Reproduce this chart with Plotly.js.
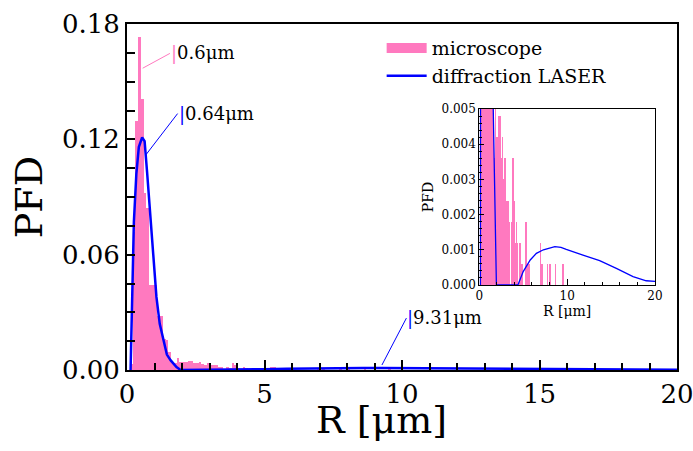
<!DOCTYPE html>
<html>
<head>
<meta charset="utf-8">
<script src="https://cdn.plot.ly/plotly-3.0.1.min.js"></script>
<style>html,body{margin:0;padding:0;background:#fff;}#chart{width:693px;height:451px;}</style>
</head>
<body>
<div id="chart"></div>
<script>
// Microscope histogram: bin centres (μm) and probability density
const binCenters = [0.15,0.25,0.35,0.45,0.55,0.65,0.75,0.85,0.95,1.05,1.15,1.25,1.35,1.45,1.55,1.65,1.75,1.85,1.95,2.05,2.15,2.25,2.35,2.45,2.55,2.65,2.75,2.85,2.95,3.05,3.15,3.25,3.35,3.45,3.65,3.75,3.85,3.95,4.05,4.25,4.35,4.55,4.65,4.85,5.25,5.35,5.55,5.75,6.95,7.15,7.75,8.05,8.65,9.55];
const microscopePFD = [0.003,0.072,0.1295,0.173,0.141,0.092,0.0845,0.044,0.044,0.044,0.028,0.028,0.016,0.0156,0.0096,0.0036,0.0036,0.006,0.0042,0.0042,0.0042,0.0048,0.0048,0.0036,0.0036,0.0042,0.003,0.0028,0.0036,0.0024,0.0024,0.0024,0.0018,0.0018,0.0018,0.0012,0.0036,0.0024,0.0012,0.0018,0.0012,0.0012,0.0012,0.0006,0.0018,0.0018,0.0006,0.0006,0.0012,0.0006,0.0006,0.0006,0.0006,0.0006];
const binWidth = 0.1;

// Diffraction LASER distribution
const laserR   = [0.13,0.18,0.25,0.34,0.43,0.55,0.64,0.73,0.83,0.95,1.07,1.19,1.31,1.39,1.45,1.59,1.69,1.80,1.95,4.4,5.0,5.8,6.5,7.3,8.6,9.3,9.9,11.8,13.7,15.6,17.5,19.0,20.0];
const laserPFD = [0,0.036,0.077,0.102,0.116,0.121,0.119,0.103,0.083,0.057,0.038,0.024,0.017,0.011,0.008,0.005,0.0035,0.0015,0,0,0.00038,0.00071,0.0009,0.001,0.00109,0.00107,0.00101,0.00085,0.00069,0.00047,0.00024,0.00012,0.0001];

// Peak annotations
const annotLabels = ["0.6μm","0.64μm","9.31μm"];
const annotHeadX = [0.57,0.69,9.27];
const annotHeadY = [0.157,0.112,0.0026];
const annotTailX = [1.56,1.84,10.16];
const annotTailY = [0.1647,0.1334,0.027];
const annotColors = ["#ff79bf","#0000ff","#0000ff"];

const PINK = "#ff79bf";
const BLUE = "#0000ff";
const FONT = "DejaVu Serif";

const traces = [
  {type:"bar", x:binCenters, y:microscopePFD, width:binWidth, marker:{color:PINK, line:{width:0}}, showlegend:false, xaxis:"x", yaxis:"y"},
  {type:"scatter", mode:"lines", x:[null], y:[null], name:"microscope", line:{color:PINK, width:10}, xaxis:"x", yaxis:"y"},
  {type:"scatter", mode:"lines", x:laserR, y:laserPFD, name:"diffraction LASER", line:{color:BLUE, width:2.5}, xaxis:"x", yaxis:"y"},
  {type:"bar", x:binCenters, y:microscopePFD, width:0.16, marker:{color:PINK, line:{width:0}}, showlegend:false, xaxis:"x2", yaxis:"y2"},
  {type:"scatter", mode:"lines", x:laserR, y:laserPFD, line:{color:BLUE, width:1.3}, showlegend:false, xaxis:"x2", yaxis:"y2"}
];

const annotations = annotLabels.map((t,i)=>({
  x:annotHeadX[i], y:annotHeadY[i], xref:"x", yref:"y",
  ax:annotTailX[i], ay:annotTailY[i], axref:"x", ayref:"y",
  text:'<span style="color:'+annotColors[i]+'">|</span>'+t,
  xanchor:"left", yanchor:"middle", borderpad:0,
  showarrow:true, arrowhead:0, arrowwidth:1, arrowcolor:annotColors[i],
  font:{family:FONT, size:18, color:"#000"}
}));
annotations.push({
  text:"R [μm]", xref:"paper", yref:"paper", x:0.462, y:-0.145, xanchor:"center", yanchor:"middle",
  showarrow:false, font:{family:FONT, size:38, color:"#000"}
});

const layout = {
  width:693, height:451,
  margin:{l:127, r:16, t:24, b:81},
  paper_bgcolor:"#fff", plot_bgcolor:"#fff",
  barmode:"overlay", bargap:0,
  font:{family:FONT, color:"#000"},
  showlegend:true,
  legend:{x:0.463, y:0.985, xanchor:"left", yanchor:"top", bgcolor:"rgba(0,0,0,0)", font:{family:FONT, size:19}, tracegroupgap:0, itemwidth:40},
  xaxis:{domain:[0,1], range:[0,20], tickvals:[0,5,10,15,20], ticks:"inside", ticklen:10, tickwidth:2, tickcolor:"#000",
    ticklabeloverflow:"allow",
    minor:{dtick:1, ticks:"inside", ticklen:7, tickwidth:2, tickcolor:"#000"},
    showline:true, linewidth:2, linecolor:"#000", mirror:true, showgrid:false, zeroline:false,
    tickfont:{family:FONT, size:26}},
  yaxis:{domain:[0,1], range:[0,0.18], tickvals:[0,0.06,0.12,0.18], tickformat:".2f", ticks:"inside", ticklen:8, tickwidth:2, tickcolor:"#000",
    minor:{dtick:0.015, ticks:"inside", ticklen:8, tickwidth:2, tickcolor:"#000"},
    showline:true, linewidth:2, linecolor:"#000", mirror:true, showgrid:false, zeroline:false,
    tickfont:{family:FONT, size:26}, title:{text:"PFD", font:{family:FONT, size:38}, standoff:8}},
  xaxis2:{anchor:"y2", domain:[0.6405,0.96], range:[0,20], tickvals:[0,10,20], ticks:"inside", ticklen:6, tickwidth:1, tickcolor:"#000",
    minor:{dtick:2, ticks:"inside", ticklen:3, tickwidth:1, tickcolor:"#000"},
    showline:true, linewidth:1, linecolor:"#000", mirror:true, showgrid:false, zeroline:false,
    tickfont:{family:FONT, size:12}, title:{text:"R [μm]", font:{family:FONT, size:14}, standoff:2}},
  yaxis2:{anchor:"x2", domain:[0.2457,0.7543], range:[0,0.005], tickvals:[0,0.001,0.002,0.003,0.004,0.005], tickformat:".3f", ticks:"inside", ticklen:5, tickwidth:1, tickcolor:"#000",
    minor:{dtick:0.0002, ticks:"inside", ticklen:3, tickwidth:1, tickcolor:"#000"},
    showline:true, linewidth:1, linecolor:"#000", mirror:true, showgrid:false, zeroline:false,
    tickfont:{family:FONT, size:12}, title:{text:"PFD", font:{family:FONT, size:14}, standoff:4}},
  annotations:annotations
};

Plotly.newPlot("chart", traces, layout, {displayModeBar:false, staticPlot:true});
</script>
</body>
</html>
